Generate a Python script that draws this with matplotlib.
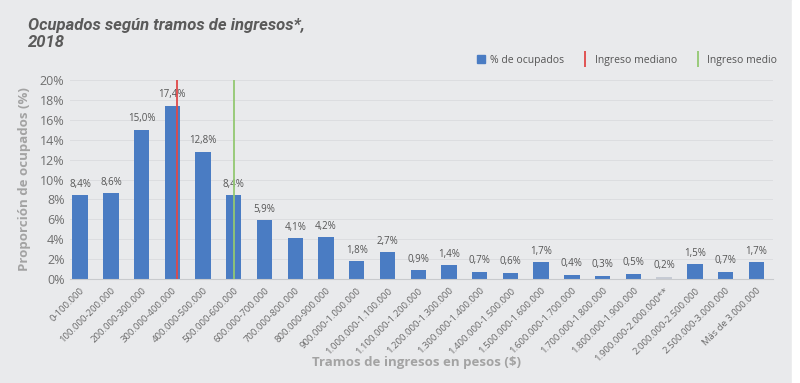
import numpy as np
import matplotlib.pyplot as plt
from matplotlib.lines import Line2D
from matplotlib.patches import Rectangle

tramos = ["0-100.000", "100.000-200.000", "200.000-300.000", "300.000-400.000",
          "400.000-500.000", "500.000-600.000", "600.000-700.000", "700.000-800.000",
          "800.000-900.000", "900.000-1.000.000", "1.000.000-1.100.000",
          "1.100.000-1.200.000", "1.200.000-1.300.000", "1.300.000-1.400.000",
          "1.400.000-1.500.000", "1.500.000-1.600.000", "1.600.000-1.700.000",
          "1.700.000-1.800.000", "1.800.000-1.900.000", "1.900.000-2.000.000**",
          "2.000.000-2.500.000", "2.500.000-3.000.000", "Más de 3.000.000"]
ocupados = [8.4, 8.6, 15.0, 17.4, 12.8, 8.4, 5.9, 4.1, 4.2, 1.8, 2.7, 0.9, 1.4,
            0.7, 0.6, 1.7, 0.4, 0.3, 0.5, 0.2, 1.5, 0.7, 1.7]
# position of the lines in category units
ingreso_mediano = 3.14
ingreso_medio = 5.01
tramo_atenuado = "1.900.000-2.000.000**"

bg = "#e9eaec"
blue = "#4a7cc3"
red = "#e04848"
green = "#93c872"

plt.rcParams['font.family'] = ['Open Sans', 'DejaVu Sans']

fig = plt.figure(figsize=(8, 3.83), dpi=100, facecolor=bg)
fig.patches.append(Rectangle((0.99, 0), 0.01, 1, transform=fig.transFigure,
                             color="white", zorder=-1))
ax = fig.add_axes([0.0875, 0.2715, 0.879, 0.5195])
ax.set_facecolor(bg)

x = np.arange(len(tramos))
colors = ["#c6cbd4" if t == tramo_atenuado else blue for t in tramos]
ax.bar(x, ocupados, width=0.5, color=colors, zorder=2)
for xi, v in zip(x, ocupados):
    ax.annotate(f"{v:.1f}%".replace(".", ","), (xi, v), xytext=(0, 4),
                textcoords="offset points", ha="center", va="bottom",
                fontsize=7, color="#555555")

ax.axvline(ingreso_mediano, color=red, lw=1.3, zorder=3)
ax.axvline(ingreso_medio, color=green, lw=1.3, zorder=3)

ax.set_ylim(0, 20)
ax.set_xlim(-0.33, 22.55)
ax.set_yticks(np.arange(0, 21, 2))
ax.set_yticklabels([f"{v}%" for v in range(0, 21, 2)], fontsize=9, color="#6f6f6f")
ax.set_xticks(x)
ax.set_xticklabels(tramos, rotation=45, ha="right", rotation_mode="anchor",
                   fontsize=6.8, color="#6a6a6a")
ax.tick_params(length=0, pad=4)
ax.tick_params(axis="x", pad=5)
ax.grid(axis="y", color="#dcdde0", lw=0.7, zorder=0)
for s in ["top", "right", "left"]:
    ax.spines[s].set_visible(False)
ax.spines["bottom"].set_color("#c8cacd")

ax.set_ylabel("Proporción de ocupados (%)", fontsize=9.5, fontweight="bold",
              color="#a3a3a3", labelpad=6)
fig.text(0.52, 0.053, "Tramos de ingresos en pesos ($)", ha="center", va="center",
         fontsize=9.5, fontweight="bold", color="#a3a3a3")

fig.text(0.035, 0.912, "Ocupados según tramos de ingresos*,\n2018", ha="left",
         va="center", fontsize=12, fontweight="bold", fontstyle="italic",
         color="#5a5a5a", linespacing=1.2, family=["Roboto", "DejaVu Sans"])

handles = [Line2D([], [], marker="s", ls="", color=blue, markersize=6),
           Line2D([], [], marker="|", ls="", color=red, markersize=11, markeredgewidth=1.3),
           Line2D([], [], marker="|", ls="", color=green, markersize=11, markeredgewidth=1.3)]
fig.legend(handles, ["% de ocupados", "Ingreso mediano", "Ingreso medio"],
           loc="center", bbox_to_anchor=(0.783, 0.843), ncol=3, frameon=False,
           fontsize=7.5, labelcolor="#555555", handlelength=1.0, handletextpad=0.4,
           columnspacing=1.5)

fig.savefig("out.png", dpi=100, facecolor=bg)
